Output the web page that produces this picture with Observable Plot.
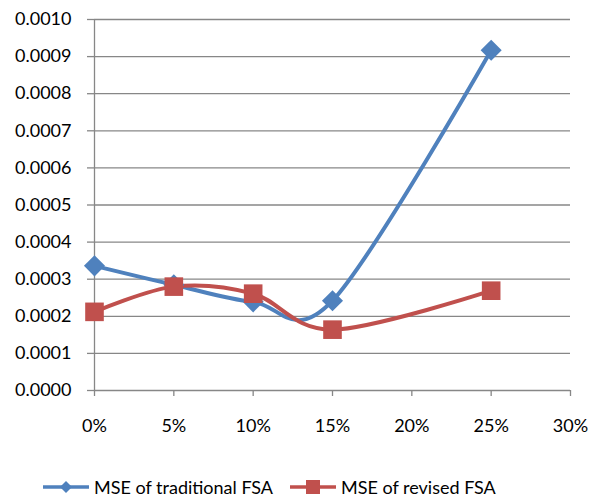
<!DOCTYPE html>
<html>
<head>
<meta charset="utf-8">
<script src="https://cdn.jsdelivr.net/npm/d3@7"></script>
<script src="https://cdn.jsdelivr.net/npm/@observablehq/plot@0.6"></script>
<style>
  html, body { margin: 0; padding: 0; background: #fff; }
  #chart svg { display: block; }
  .legend { display: flex; height: 42px; align-items: center; font-family: Lato, sans-serif; font-size: 18px; color: #000; position: relative; }
  .item { position: absolute; display: flex; align-items: center; top: 10px; }
  .item svg { display: block; margin-right: 5px; }
</style>
</head>
<body>
<div id="chart"></div>
<div class="legend" id="legend"></div>
<script>
const noiseRates = [0, 0.05, 0.10, 0.15, 0.25];
const mseTraditional = [0.000336, 0.000285, 0.000239, 0.000242, 0.000917];
const mseRevised = [0.000212, 0.000280, 0.000261, 0.000164, 0.000269];
const seriesNames = ["MSE of traditional FSA", "MSE of revised FSA"];
const seriesColors = ["#4F81BD", "#C0504D"];
const xTicks = [0, 0.05, 0.10, 0.15, 0.20, 0.25, 0.30];
const yTicks = [0, 0.0001, 0.0002, 0.0003, 0.0004, 0.0005, 0.0006, 0.0007, 0.0008, 0.0009, 0.0010];

const trad = noiseRates.map((x, i) => ({x, y: mseTraditional[i]}));
const rev = noiseRates.map((x, i) => ({x, y: mseRevised[i]}));
const grey = "#878787";

const plot = Plot.plot({
  width: 604,
  height: 460,
  marginLeft: 94,
  marginRight: 34,
  marginTop: 19,
  marginBottom: 70,
  style: {fontFamily: "Lato, sans-serif", fontSize: "18px", color: "#000", background: "#fff"},
  x: {domain: [0, 0.30]},
  y: {domain: [0, 0.0010]},
  marks: [
    Plot.gridY(yTicks, {stroke: grey, strokeOpacity: 1, strokeWidth: 1.3}),
    Plot.axisY(yTicks, {tickSize: 7, tickPadding: 16, stroke: grey, strokeWidth: 1.3, tickFormat: d3.format(".4f"), label: null, fill: "#000"}),
    Plot.axisX(xTicks, {tickSize: 6, tickPadding: 23, stroke: grey, strokeWidth: 1.3, tickFormat: d => Math.round(d * 100) + "%", label: null, fill: "#000"}),
    Plot.ruleX([0], {y1: 0, y2: 0.0010, stroke: grey, strokeWidth: 1.3}),
    Plot.line(trad, {x: "x", y: "y", stroke: seriesColors[0], strokeWidth: 4, curve: "cardinal", tension: 0}),
    Plot.line(rev, {x: "x", y: "y", stroke: seriesColors[1], strokeWidth: 4, curve: "cardinal", tension: 0}),
    Plot.dot(trad, {x: "x", y: "y", symbol: "diamond2", r: 9.5, fill: seriesColors[0], stroke: null}),
    Plot.dot(rev, {x: "x", y: "y", symbol: "square", r: 10.5, fill: seriesColors[1], stroke: null})
  ]
});
document.getElementById("chart").appendChild(plot);

const legend = document.getElementById("legend");
const lefts = [43, 290];
seriesNames.forEach((name, i) => {
  const item = document.createElement("div");
  item.className = "item";
  item.style.left = lefts[i] + "px";
  const sym = i === 0
    ? `<path d="M23,11 L29,17 L23,23 L17,17 Z" fill="${seriesColors[i]}"/>`
    : `<rect x="16" y="10" width="14" height="14" fill="${seriesColors[i]}"/>`;
  item.innerHTML = `<svg width="46" height="34" viewBox="0 0 46 34"><line x1="0" x2="46" y1="17" y2="17" stroke="${seriesColors[i]}" stroke-width="3.5"/>${sym}</svg><span>${name}</span>`;
  legend.appendChild(item);
});
</script>
</body>
</html>
